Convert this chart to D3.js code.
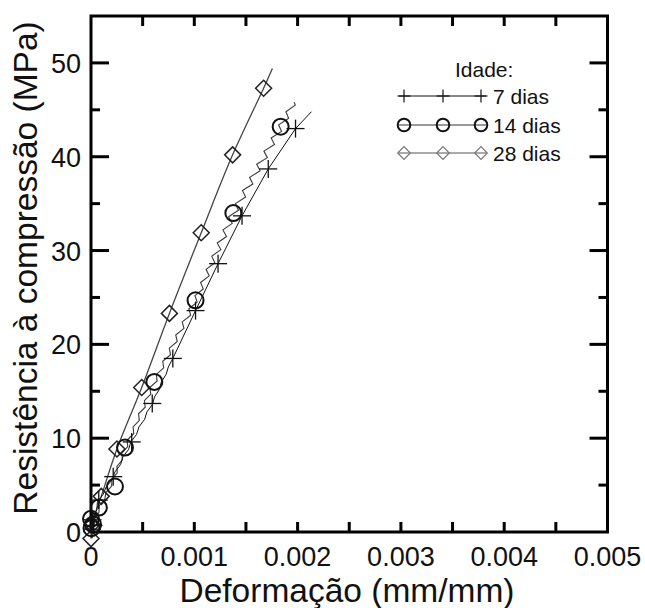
<!DOCTYPE html>
<html>
<head>
<meta charset="utf-8">
<script src="https://cdn.jsdelivr.net/npm/d3@7"></script>
<style>
  html, body { margin: 0; padding: 0; background: #fff; }
  svg text { font-family: "Liberation Sans", Arial, Helvetica, sans-serif; fill: #111; }
</style>
</head>
<body>
<svg id="chart" width="645" height="608"></svg>
<script>
// Strain (mm/mm) and stress (MPa) readings for each curing age.

// 7 days: continuous record
const curve7 = [
  [0, 0], [0.000020, 0.8], [0.000020, 1.6], [0.000057, 2.4], [0.000062, 3.2],
  [0.000117, 4.0], [0.000146, 4.8], [0.000207, 5.6], [0.000231, 6.4], [0.000287, 7.2],
  [0.000308, 8.0], [0.000364, 8.8], [0.000386, 9.6], [0.000441, 10.4], [0.000464, 11.2],
  [0.000519, 12.0], [0.000541, 12.8], [0.000596, 13.6], [0.000615, 14.4], [0.000662, 15.2],
  [0.000681, 16.0], [0.000727, 16.8], [0.000749, 17.6], [0.000792, 18.5], [0.001012, 23.6],
  [0.001230, 28.6], [0.001462, 33.7], [0.001716, 38.7], [0.001980, 43.0], [0.002134, 44.8]
];
// 7 days: marked points
const marks7 = [
  [0.000010, 0.3], [0.000025, 0.7], [0.000015, 1.3], [0.000075, 3.4], [0.000215, 5.9],
  [0.000394, 9.6], [0.000593, 13.7], [0.000792, 18.5], [0.001012, 23.6], [0.001230, 28.6],
  [0.001462, 33.7], [0.001716, 38.7], [0.001980, 43.0]
];

// 14 days: continuous record
const curve14 = [
  [0, 0], [0.000032, 0.7], [0.000035, 1.4], [0.000077, 2.1], [0.000079, 2.8],
  [0.000134, 3.5], [0.000144, 4.2], [0.000200, 4.9], [0.000202, 5.6], [0.000254, 6.3],
  [0.000251, 7.0], [0.000304, 7.7], [0.000298, 8.4], [0.000356, 9.1], [0.000350, 9.8],
  [0.000414, 10.5], [0.000407, 11.2], [0.000468, 11.9], [0.000460, 12.6], [0.000525, 13.3],
  [0.000517, 14.0], [0.000579, 14.7], [0.000569, 15.4], [0.000640, 16.1], [0.000632, 16.8],
  [0.000704, 17.5], [0.000694, 18.2], [0.000770, 18.9], [0.000758, 19.6], [0.000835, 20.3],
  [0.000820, 21.0], [0.000900, 21.7], [0.000883, 22.4], [0.000965, 23.1], [0.000947, 23.8],
  [0.001028, 24.5], [0.001006, 25.2], [0.001087, 25.9], [0.001061, 26.6], [0.001144, 27.3],
  [0.001114, 28.0], [0.001199, 28.7], [0.001169, 29.4], [0.001257, 30.1], [0.001222, 30.8],
  [0.001312, 31.5], [0.001277, 32.2], [0.001367, 32.9], [0.001332, 33.6], [0.001427, 34.3],
  [0.001398, 35.0], [0.001497, 35.7], [0.001466, 36.4], [0.001567, 37.1], [0.001535, 37.8],
  [0.001637, 38.5], [0.001604, 39.2], [0.001707, 39.9], [0.001674, 40.6], [0.001776, 41.3],
  [0.001744, 42.0], [0.001845, 42.7], [0.001816, 43.4], [0.001913, 44.1], [0.001887, 44.8],
  [0.001977, 45.5], [0.001967, 45.8]
];
// 14 days: marked points
const marks14 = [
  [0.000005, 0.4], [0.000020, 0.8], [0.000000, 1.4], [0.000076, 2.6], [0.000232, 4.85],
  [0.000329, 9.0], [0.000613, 16.0], [0.001012, 24.7], [0.001378, 34.0], [0.001836, 43.2]
];

// 28 days: continuous record
const curve28 = [
  [0, -0.7], [0.000010, 0.8], [0.000099, 3.8], [0.000251, 8.85], [0.000491, 15.4],
  [0.000759, 23.3], [0.001067, 31.9], [0.001371, 40.2], [0.001671, 47.3], [0.001756, 49.4]
];
// 28 days: marked points
const marks28 = [
  [0, -0.7], [0.000010, 0.8], [0.000099, 3.8], [0.000251, 8.85], [0.000491, 15.4],
  [0.000759, 23.3], [0.001067, 31.9], [0.001371, 40.2], [0.001671, 47.3]
];

// Axis ticks
const xTickValues = [0, 0.001, 0.002, 0.003, 0.004, 0.005];
const xTickLabels = ["0", "0.001", "0.002", "0.003", "0.004", "0.005"];
const xMinorTicks = [0.0005, 0.0015, 0.0025, 0.0035, 0.0045];
const yTickValues = [0, 10, 20, 30, 40, 50];
const yMinorTicks = [5, 15, 25, 35, 45];

const legendTitle = "Idade:";
const legendLabels = ["7 dias", "14 dias", "28 dias"];

const svg = d3.select("#chart");
const plotLeft = 91, plotRight = 607.5, plotTop = 16, plotBottom = 532;

const x = d3.scaleLinear().domain([0, 0.005]).range([plotLeft, plotRight]);
const y = d3.scaleLinear().domain([0, 55]).range([plotBottom, plotTop]);

// Ticks pointing inward on all four sides
const tickG = svg.append("g").attr("stroke", "#000").attr("stroke-width", 3);
const xAllTicks = xTickValues.concat(xMinorTicks).filter(v => v > 0 && v < 0.005);
xAllTicks.forEach(v => {
  tickG.append("line").attr("x1", x(v)).attr("x2", x(v)).attr("y1", plotBottom).attr("y2", plotBottom - 10);
  tickG.append("line").attr("x1", x(v)).attr("x2", x(v)).attr("y1", plotTop).attr("y2", plotTop + 10);
});
yTickValues.filter(v => v > 0).forEach(v => {
  tickG.append("line").attr("x1", plotLeft).attr("x2", plotLeft + 18).attr("y1", y(v)).attr("y2", y(v));
  tickG.append("line").attr("x1", plotRight).attr("x2", plotRight - 18).attr("y1", y(v)).attr("y2", y(v));
});
yMinorTicks.forEach(v => {
  tickG.append("line").attr("x1", plotLeft).attr("x2", plotLeft + 9).attr("y1", y(v)).attr("y2", y(v));
  tickG.append("line").attr("x1", plotRight).attr("x2", plotRight - 9).attr("y1", y(v)).attr("y2", y(v));
});

// Frame
svg.append("rect")
  .attr("x", plotLeft).attr("y", plotTop)
  .attr("width", plotRight - plotLeft).attr("height", plotBottom - plotTop)
  .attr("fill", "none").attr("stroke", "#000").attr("stroke-width", 3);

// Tick labels
svg.append("g").selectAll("text").data(xTickValues).join("text")
  .attr("x", d => x(d)).attr("y", 565.5)
  .attr("text-anchor", "middle").attr("font-size", 27)
  .text((d, i) => xTickLabels[i]);
svg.append("g").selectAll("text").data(yTickValues).join("text")
  .attr("x", plotLeft - 10).attr("y", d => y(d) + 10)
  .attr("text-anchor", "end").attr("font-size", 27)
  .text(d => d);

// Axis titles
svg.append("text")
  .attr("x", 347).attr("y", 602)
  .attr("text-anchor", "middle").attr("font-size", 33.5)
  .text("Deformação (mm/mm)");
svg.append("text")
  .attr("transform", `translate(37, ${(plotTop + plotBottom) / 2 - 6}) rotate(-90)`)
  .attr("text-anchor", "middle").attr("font-size", 33.5)
  .text("Resistência à compressão (MPa)");

// Curves
const line = d3.line().x(d => x(d[0])).y(d => y(d[1]));
const smooth = d3.line().x(d => x(d[0])).y(d => y(d[1])).curve(d3.curveCatmullRom);

svg.append("path").datum(curve28).attr("d", smooth)
  .attr("fill", "none").attr("stroke", "#444").attr("stroke-width", 1.3);
svg.append("path").datum(curve14).attr("d", line)
  .attr("fill", "none").attr("stroke", "#3a3a3a").attr("stroke-width", 1.1);
svg.append("path").datum(curve7).attr("d", line)
  .attr("fill", "none").attr("stroke", "#111").attr("stroke-width", 1);

// Marker shapes
function plus(g, cx, cy, s, color, w) {
  g.append("line").attr("x1", cx - s).attr("x2", cx + s).attr("y1", cy).attr("y2", cy)
    .attr("stroke", color).attr("stroke-width", w);
  g.append("line").attr("x1", cx).attr("x2", cx).attr("y1", cy - s).attr("y2", cy + s)
    .attr("stroke", color).attr("stroke-width", w);
}
function diamond(g, cx, cy, s, color, w) {
  g.append("path")
    .attr("d", `M${cx},${cy - s}L${cx + s},${cy}L${cx},${cy + s}L${cx - s},${cy}Z`)
    .attr("fill", "none").attr("stroke", color).attr("stroke-width", w);
}
function circle(g, cx, cy, r, color, w) {
  g.append("circle").attr("cx", cx).attr("cy", cy).attr("r", r)
    .attr("fill", "none").attr("stroke", color).attr("stroke-width", w);
}

const markG = svg.append("g");
marks28.forEach(d => diamond(markG, x(d[0]), y(d[1]), 8, "#222", 1.5));
marks14.forEach(d => circle(markG, x(d[0]), y(d[1]), 8, "#111", 2));
marks7.forEach(d => plus(markG, x(d[0]), y(d[1]), 9, "#111", 1.3));

// Legend
const leg = svg.append("g");
leg.append("text").attr("x", 455).attr("y", 77).attr("font-size", 21).text(legendTitle);
const rowsY = [96, 125, 153];
const symX = [404, 443, 481];
const rowLine = [["#111", 1], ["#333", 1], ["#555", 1]];
rowsY.forEach((ry, i) => {
  leg.append("line").attr("x1", symX[0] - 5).attr("x2", symX[2] + 5).attr("y1", ry).attr("y2", ry)
    .attr("stroke", rowLine[i][0]).attr("stroke-width", rowLine[i][1]);
});
symX.forEach(sx => plus(leg, sx, rowsY[0], 6.5, "#111", 1.2));
symX.forEach(sx => circle(leg, sx, rowsY[1], 6.3, "#111", 2));
symX.forEach(sx => diamond(leg, sx, rowsY[2], 6.3, "#777", 1.2));
legendLabels.forEach((t, i) => {
  leg.append("text").attr("x", 493).attr("y", rowsY[i] + 7.5).attr("font-size", 21).text(t);
});
</script>
</body>
</html>
